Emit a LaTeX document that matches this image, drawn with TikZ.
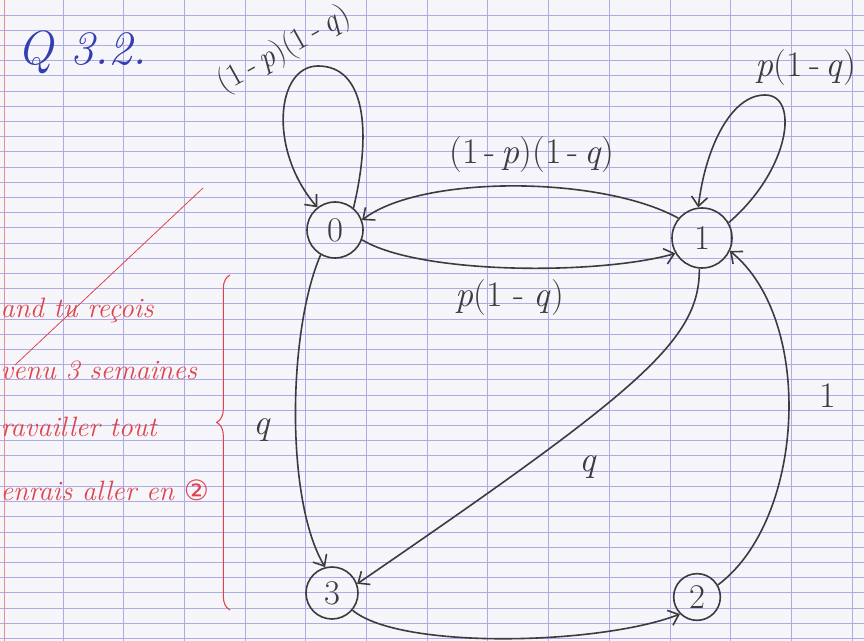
\documentclass[tikz,border=0pt]{standalone}
\usepackage{fontspec}
\newfontfamily\symfont{DejaVu Sans}
\usetikzlibrary{arrows.meta,decorations.pathreplacing}

\definecolor{pencil}{RGB}{60,60,62}
\definecolor{inkred}{RGB}{222,68,78}
\definecolor{inkblue}{RGB}{52,62,178}
\definecolor{rulecol}{RGB}{172,172,230}
\definecolor{margincol}{RGB}{235,140,150}
\definecolor{paper}{RGB}{246,246,250}

\tikzset{every picture/.style={line width=0.75pt}}
\tikzset{
  state/.style={draw=pencil, circle, line width=1.2pt, minimum size=42pt, inner sep=0pt, text=pencil, font=\fontsize{26}{30}\selectfont},
  trans/.style={draw=pencil, line width=1.2pt, -{Straight Barb[length=7pt,width=12pt]}},
  lbl/.style={inner sep=0.75pt, text=pencil, font=\fontsize{27}{30}\selectfont},
  note/.style={anchor=west, inner sep=0pt, text=inkred, font=\fontsize{21}{24}\selectfont\itshape},
}

\begin{document}
\begin{tikzpicture}[x=0.75pt,y=0.75pt,yscale=-1,xscale=1]
%set diagram left start at 0, and has height of 641
\fill[paper] (0,0) rectangle (864,641);
\useasboundingbox (0,0) rectangle (864,641);

%Paper rules
\foreach \k in {0,...,41}
  \draw[rulecol, line width=0.45pt] (0,15+15.2*\k) -- (864,15+15.2*\k);
\foreach \k in {0,...,13}
  \draw[rulecol, line width=0.7pt] (63+60.7*\k,0) -- (63+60.7*\k,641);
\draw[margincol, line width=0.6pt] (4,0) -- (4,641);

% Title
\node[inkblue, font=\fontsize{36}{40}\selectfont\itshape] (title) at (82,52) {Q 3.2.};

% States
\node[state] (s0) at (335,230) {0};
\node[state, minimum size=45pt] (s1) at (702,238) {1};
\node[state, minimum size=39pt] (s3) at (332,593) {3};
\node[state, minimum size=35pt] (s2) at (697,597) {2};

% Self loops
\draw[trans] (s0.50) .. controls (372,130) and (365,66) .. (318,66) .. controls (276,66) and (268,150) .. (s0.128);
\draw[trans] (s1.30) .. controls (790,170) and (800,95) .. (765,95) .. controls (730,95) and (705,150) .. (s1.97);

% Transitions
\draw[trans] (s1.140) .. controls (600,175) and (420,175) .. (s0.20);
\draw[trans] (s0.-20) .. controls (420,275) and (600,275) .. (s1.-150);
\draw[trans] (s0.-120) .. controls (288,330) and (285,500) .. (s3.105);
\draw[trans] (s1.-95) .. controls (700,340) and (640,390) .. (s3.20);
\draw[trans] (s3.-40) .. controls (400,650) and (600,645) .. (s2.-135);
\draw[trans] (s2.30) .. controls (805,520) and (815,320) .. (s1.-25);

% Labels
\node[lbl, rotate=29, font=\fontsize{24}{27}\selectfont] (l00) at (284,50) {(1\,-\,\textit{p})(1\,-\,\textit{q})};
\node[lbl] (l10) at (532,155) {(1\,-\,\textit{p})(1\,-\,\textit{q})};
\node[lbl] (l01) at (510,298) {\textit{p}(1\;-\;\textit{q})};
\node[lbl] (l11) at (806,68) {\textit{p}(1\,-\,\textit{q})};
\node[lbl] (l03) at (262,430) {\textit{q}};
\node[lbl] (l13) at (588,467) {\textit{q}};
\node[lbl] (l21) at (828,396) {1};

% Red notes
\draw[inkred, line width=0.6pt] (203,188) -- (15,365);
\node[note] (n1) at (0,310) {and tu reçois};
\node[note] (n2) at (0,370) {venu 3 semaines};
\node[note] (n3) at (0,427) {ravailler tout};
\node[note] (n4) at (0,490) {enrais aller en {\symfont\upshape ②}};
\draw[inkred, line width=0.8pt, decorate, decoration={brace, amplitude=10pt, aspect=0.56}] (230,610) -- (230,275);
\end{tikzpicture}
\end{document}
